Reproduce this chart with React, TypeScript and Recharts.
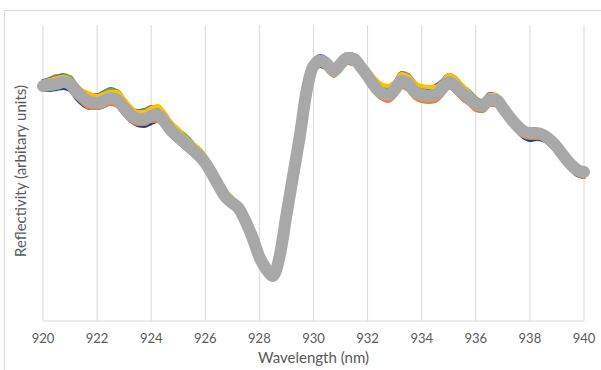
import { LineChart, Line, XAxis, YAxis, CartesianGrid } from 'recharts';

// Reflectivity spectra around the 928 nm dip: many overlapping scans,
// drawn as a thick grey band with the coloured scans peeking out at the edges.

const wavelengths = [
  920.0, 920.25, 920.5, 920.75, 921.0, 921.25, 921.5, 921.75, 922.0,
  922.25, 922.5, 922.75, 923.0, 923.25, 923.5, 923.75, 924.0, 924.25,
  924.5, 924.75, 925.0, 925.25, 925.5, 925.75, 926.0, 926.25, 926.5,
  926.75, 927.0, 927.25, 927.5, 927.75, 928.0, 928.25, 928.5, 928.75,
  929.0, 929.25, 929.5, 929.75, 930.0, 930.25, 930.5, 930.75, 931.0,
  931.25, 931.5, 931.75, 932.0, 932.25, 932.5, 932.75, 933.0, 933.25,
  933.5, 933.75, 934.0, 934.25, 934.5, 934.75, 935.0, 935.25, 935.5,
  935.75, 936.0, 936.25, 936.5, 936.75, 937.0, 937.25, 937.5, 937.75,
  938.0, 938.25, 938.5, 938.75, 939.0, 939.25, 939.5, 939.75, 940.0,
];

const scanGrey = [
  235, 236, 237, 239, 237, 229, 223, 219, 218,
  220, 223, 221, 213, 206, 202, 202, 205, 206,
  199, 190, 184, 178, 172, 166, 158, 147, 135,
  124, 118, 112, 99, 83, 64, 52, 45, 65,
  106, 146, 186, 231, 255, 260, 257, 250, 257,
  263, 262, 254, 245, 235, 228, 226, 231, 240,
  237, 229, 226, 225, 226, 232, 239, 235, 228,
  223, 217, 215, 221, 221, 213, 204, 196, 190,
  188, 188, 186, 181, 174, 165, 157, 151, 149,
];

const scanBlue = [
  240, 242, 244, 246, 243, 235, 229, 226, 226,
  229, 232, 229, 221, 213, 210, 211, 214, 214,
  207, 197, 191, 185, 178, 172, 164, 152, 140,
  129, 123, 116, 102, 85, 66, 55, 46, 68,
  107, 147, 188, 234, 260, 265, 262, 255, 261,
  267, 266, 259, 251, 242, 236, 234, 238, 248,
  246, 238, 234, 233, 235, 240, 246, 243, 235,
  229, 222, 220, 227, 226, 217, 208, 199, 192,
  184, 185, 188, 184, 177, 168, 160, 154, 152,
];

const scanYellow = [
  239, 241, 243, 244, 242, 234, 230, 227, 225,
  227, 229, 229, 222, 214, 209, 209, 213, 215,
  208, 198, 192, 184, 178, 173, 165, 153, 140,
  130, 123, 116, 102, 86, 66, 54, 43, 66,
  105, 145, 186, 233, 259, 264, 261, 255, 262,
  267, 265, 258, 251, 243, 237, 235, 239, 247,
  245, 238, 235, 234, 234, 239, 246, 243, 236,
  229, 221, 219, 226, 226, 217, 207, 199, 193,
  191, 190, 188, 183, 176, 167, 159, 153, 151,
];

const scanGreen = [
  238, 240, 242, 245, 244, 235, 228, 225, 225,
  228, 231, 230, 221, 212, 208, 210, 213, 213,
  206, 198, 191, 186, 179, 171, 164, 154, 141,
  129, 122, 115, 101, 85, 65, 54, 45, 67,
  107, 147, 187, 233, 258, 264, 260, 254, 261,
  266, 265, 258, 250, 242, 236, 233, 237, 246,
  244, 237, 234, 234, 233, 238, 245, 242, 235,
  230, 223, 219, 225, 225, 216, 207, 198, 192,
  190, 190, 188, 183, 176, 166, 158, 152, 150,
];

const scanOrange = [
  238, 242, 245, 243, 234, 224, 217, 213, 213,
  215, 217, 215, 207, 200, 197, 197, 200, 200,
  194, 186, 180, 174, 168, 162, 154, 143, 131,
  120, 115, 109, 96, 81, 62, 51, 43, 66,
  105, 145, 185, 229, 252, 256, 252, 245, 253,
  258, 257, 249, 240, 230, 223, 220, 225, 234,
  231, 223, 220, 219, 220, 226, 234, 229, 222,
  217, 211, 210, 216, 216, 208, 199, 191, 185,
  183, 183, 182, 177, 170, 161, 153, 147, 144,
];

const scanNavy = [
  231, 231, 232, 233, 231, 222, 216, 213, 213,
  215, 218, 215, 207, 200, 196, 195, 198, 200,
  194, 185, 179, 173, 167, 161, 153, 142, 131,
  120, 114, 109, 96, 81, 62, 52, 44, 66,
  105, 145, 184, 228, 251, 255, 252, 246, 253,
  258, 257, 249, 240, 230, 223, 221, 226, 235,
  232, 224, 221, 220, 221, 227, 234, 230, 223,
  218, 212, 210, 216, 216, 208, 199, 191, 184,
  181, 182, 181, 176, 169, 160, 152, 146, 144,
];

const xTicks = [920, 922, 924, 926, 928, 930, 932, 934, 936, 938, 940];

const rows = wavelengths.map((w, i) => ({
  w,
  grey: scanGrey[i],
  blue: scanBlue[i],
  yellow: scanYellow[i],
  green: scanGreen[i],
  orange: scanOrange[i],
  navy: scanNavy[i],
}));

// under-layers first, grey band last so it sits on top
const under = [
  { key: 'navy', color: '#264478' },
  { key: 'orange', color: '#ED7D31' },
  { key: 'blue', color: '#4472C4' },
  { key: 'green', color: '#70AD47' },
  { key: 'yellow', color: '#FFC000' },
];

const FONT = "Lato, 'Open Sans', sans-serif";
const TXT = '#595959';
const GRID = '#d9d9d9';

export default function App() {
  return (
    <div style={{ position: 'relative', width: 601, height: 370, overflow: 'hidden', background: '#fff', fontFamily: FONT }}>
      <style>{'body{margin:0}'}</style>
      <div style={{ position: 'absolute', left: 4, top: 10, width: 700, height: 500, borderTop: `1px solid ${GRID}`, borderLeft: `1px solid ${GRID}` }} />
      <div style={{ position: 'absolute', left: 0, top: 0 }}>
        <LineChart width={601} height={370} data={rows} margin={{ top: 25, right: 17, bottom: 19, left: 43 }}>
          <CartesianGrid stroke={GRID} horizontal={false} />
          <XAxis dataKey="w" type="number" domain={[920, 940]} ticks={xTicks} height={30}
            axisLine={{ stroke: GRID }} tickLine={false} tickMargin={7}
            tick={{ fill: TXT, fontSize: 13, fontFamily: FONT }} />
          <YAxis hide domain={[0, 296]} />
          {under.map((s) => (
            <Line key={s.key} dataKey={s.key} type="monotone" stroke={s.color} strokeWidth={4}
              strokeLinecap="round" dot={false} isAnimationActive={false} />
          ))}
          <Line dataKey="grey" type="monotone" stroke="#A8A8A8" strokeWidth={12}
            strokeLinecap="round" strokeLinejoin="round" dot={false} isAnimationActive={false} />
        </LineChart>
      </div>
      <div style={{ position: 'absolute', left: 0, width: 627, top: 348, textAlign: 'center', fontSize: 15, color: TXT }}>
        Wavelength (nm)
      </div>
      <div style={{ position: 'absolute', left: 20, top: 171, transform: 'translate(-50%, -50%) rotate(-90deg)', whiteSpace: 'nowrap', fontSize: 15, color: TXT }}>
        Reflectivity (arbitary units)
      </div>
    </div>
  );
}
